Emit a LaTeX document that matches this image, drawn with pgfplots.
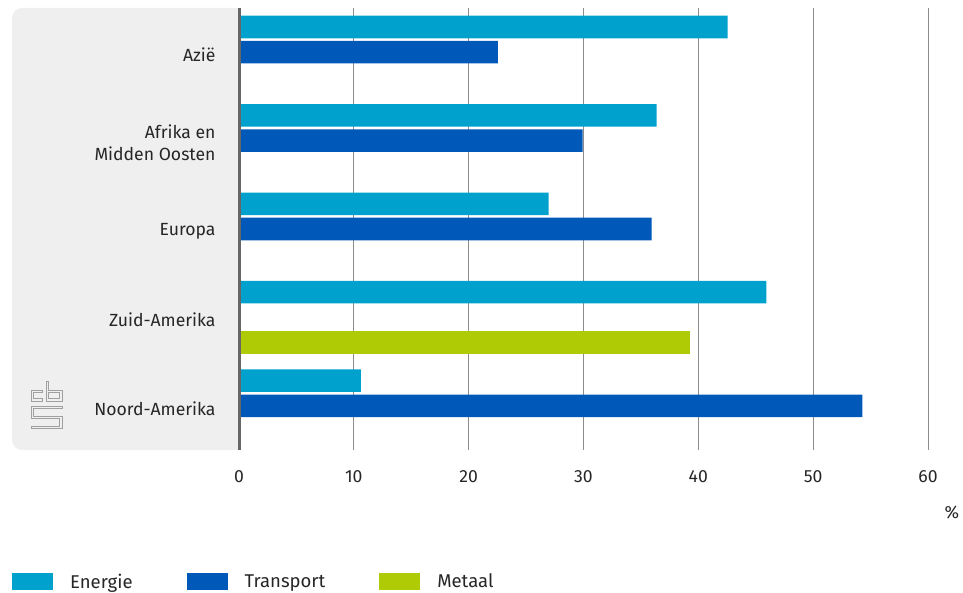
\documentclass[border=0pt]{standalone}
\usepackage{pgfplots}
\pgfplotsset{compat=1.18}
\usepackage{fontspec}
\setmainfont{Fira Sans}
\definecolor{energie}{HTML}{00A1CD}
\definecolor{transport}{HTML}{0058B8}
\definecolor{metaal}{HTML}{AFCB05}
\definecolor{panel}{HTML}{EFEFEF}
\definecolor{axisgray}{HTML}{666666}
\definecolor{gridgray}{HTML}{8C8C8C}
\definecolor{logogray}{HTML}{A0A0A0}
\begin{document}
\begin{tikzpicture}[x=1pt,y=1pt]
\path[use as bounding box] (0,0) rectangle (963,592);
\begin{scope}
\clip (0,0) rectangle (239,592);
\fill[panel, rounded corners=10pt] (12,142) rectangle (270,584);
\end{scope}
% cbs logo (decoration)
\def\logopaths{%
  (41,200.5) -- (32.5,200.5) -- (32.5,192) -- (41,192)
  (47.5,209) -- (47.5,192) -- (61,192) -- (61,200.5) -- (47.5,200.5)
  (61,184.5) -- (32.5,184.5) -- (32.5,174.5) -- (61,174.5) -- (61,164.5) -- (32.5,164.5)}
\draw[logogray, line width=3.6pt, line cap=rect] \logopaths;
\draw[panel, line width=1.4pt, line cap=rect] \logopaths;
\begin{axis}[
  at={(239pt,142pt)}, anchor=south west,
  scale only axis, width=689pt, height=442pt,
  xmin=0, xmax=60, ymin=-0.5, ymax=4.5,
  clip=false,
  xbar, bar width=0.255, bar shift=0pt,
  axis line style={draw=none},
  major tick length=0pt,
  xtick={0,10,...,60}, ytick={0,1,2,3,4},
  yticklabels={Noord-Amerika, Zuid-Amerika, Europa, {Afrika en\\Midden Oosten}, Azië},
  yticklabel style={align=right, font=\fontsize{17.6}{22}\selectfont, xshift=-20pt, yshift=-2.5pt, text=black!85},
  xticklabel style={font=\fontsize{17.6}{20}\selectfont, yshift=-17pt, text=black!85},
  /pgf/number format/assume math mode=true,
  xmajorgrids, grid style={gridgray, line width=1pt},
  legend columns=3,
  legend image code/.code={\fill[#1] (0pt,-8.5pt) rectangle (41pt,8.5pt);},
  legend style={draw=none, fill=none, inner sep=0pt, at={(-0.3295,-0.298)}, anchor=west,
    font=\fontsize{18.5}{20}\selectfont, text=black!85,
    /tikz/every odd column/.append style={column sep=15pt},
    /tikz/every even column/.append style={column sep=52pt}},
]
\addplot[draw=none, fill=energie] coordinates {(42.55,4.285) (36.37,3.285) (26.96,2.285) (45.92,1.285) (10.61,0.285)};
\addlegendentry{Energie}
\addplot[draw=none, fill=transport] coordinates {(22.54,4) (29.92,3) (35.93,2) (54.28,0)};
\addlegendentry{Transport}
\addplot[draw=none, fill=metaal] coordinates {(39.30,0.715)};
\addlegendentry{Metaal}
\draw[axisgray, line width=3pt] (axis cs:0,-0.5) -- (axis cs:0,4.5);
\end{axis}
\node[font=\fontsize{17.6}{20}\selectfont, text=black!85] at (952,79) {\%};
\end{tikzpicture}
\end{document}
